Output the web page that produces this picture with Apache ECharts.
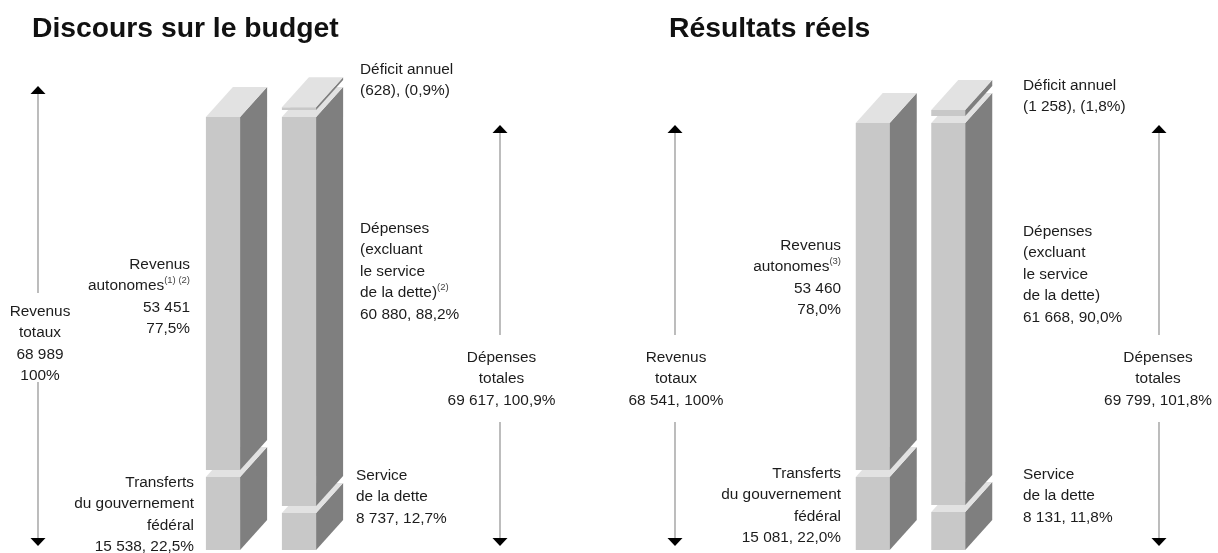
<!DOCTYPE html>
<html><head><meta charset="utf-8">
<style>html,body{margin:0;padding:0;background:#fff}#c{width:1218px;height:553px}</style>
<script src="https://cdn.jsdelivr.net/npm/echarts@6/dist/echarts.min.js"></script>
</head><body><div id="c"></div>
<script>
const titles = ['Discours sur le budget', 'Résultats réels'];
const columns = ['Revenus', 'Dépenses'];
const budgetRevenue = [15538, 53451];
const budgetExpense = [8737, 60880, 628];
const actualRevenue = [15081, 53460];
const actualExpense = [8131, 61668, 1258];

const FONT = '"Liberation Sans", Arial, sans-serif';
const DEPTH_X = 27, DEPTH_Y = 30, GAP = 7;
const FRONT = '#c8c8c8', SIDE = '#7f7f7f', TOP = '#e2e2e2';

// each row: start value, end value, column index, gap below, gap above
function rows(rev, exp) {
  return [
    [0, rev[0], 0, 0, 0],
    [rev[0], rev[0] + rev[1], 0, GAP, 0],
    [0, exp[0], 1, 0, 0],
    [exp[0], exp[0] + exp[1], 1, GAP, 0],
    [exp[0] + exp[1], exp[0] + exp[1] + exp[2], 1, GAP, GAP]
  ];
}
function renderBox(params, api) {
  const col = api.value(2);
  const a = api.coord([col, api.value(0)]);
  const b = api.coord([col, api.value(1)]);
  const w = api.size([1, 0])[0] * 0.45;
  const x0 = a[0] - w / 2, x1 = a[0] + w / 2;
  const yb = a[1] - api.value(3);
  const yt = b[1] - api.value(4);
  const poly = (pts, fill) => ({ type: 'polygon', shape: { points: pts }, style: { fill } });
  return { type: 'group', children: [
    { type: 'rect', shape: { x: x0, y: yt, width: w, height: yb - yt }, style: { fill: FRONT } },
    poly([[x1, yt], [x1 + DEPTH_X, yt - DEPTH_Y], [x1 + DEPTH_X, yb - DEPTH_Y], [x1, yb]], SIDE),
    poly([[x0, yt], [x1, yt], [x1 + DEPTH_X, yt - DEPTH_Y], [x0 + DEPTH_X, yt - DEPTH_Y]], TOP)
  ]};
}
function yAxis(gridIndex, breaks) {
  return { type: 'value', gridIndex, min: 0, max: 72000, show: false, breaks,
    breakArea: { show: false }, splitLine: { show: false } };
}
function xAxis(gridIndex) {
  return { type: 'category', gridIndex, data: columns, show: false };
}
const txt = (x, y, lines, align) => ({
  type: 'text', x, y, silent: true,
  style: { text: lines.join('\n'), font: '15.4px ' + FONT, fill: '#1c1c1c', align: align || 'left',
    verticalAlign: 'top', lineHeight: 21.4,
    rich: { s: { fontSize: 9.5, verticalAlign: 'top', padding: [0, 0, 7, 0], fontFamily: FONT, fill: '#444', lineHeight: 21.4 } } }
});
const arrow = (x, y1, y2, y3, y4) => [
  { type: 'line', shape: { x1: x, y1: y1, x2: x, y2: y2 }, style: { stroke: '#999', lineWidth: 1.3 } },
  { type: 'line', shape: { x1: x, y1: y3, x2: x, y2: y4 }, style: { stroke: '#999', lineWidth: 1.3 } },
  { type: 'polygon', shape: { points: [[x, y1 - 8], [x + 7.5, y1], [x - 7.5, y1]] }, style: { fill: '#000' } },
  { type: 'polygon', shape: { points: [[x, y4 + 8], [x + 7.5, y4], [x - 7.5, y4]] }, style: { fill: '#000' } }
];
const option = {
  animation: false,
  backgroundColor: '#fff',
  title: [
    { text: titles[0], left: 27, top: 10, textStyle: { fontFamily: FONT, fontSize: 28.3, fontWeight: 'bold', color: '#111' } },
    { text: titles[1], left: 664, top: 10, textStyle: { fontFamily: FONT, fontSize: 28.3, fontWeight: 'bold', color: '#111' } }
  ],
  grid: [
    { left: 185, width: 152, top: 102.5, height: 447.5 },
    { left: 835, width: 151, top: 110.8, height: 439.2 }
  ],
  xAxis: [xAxis(0), xAxis(1)],
  yAxis: [
    yAxis(0, [{ start: 2000, end: 5250, gap: 0 }, { start: 10000, end: 11450, gap: 0 },
              { start: 68989, end: 69617, gap: 0 }, { start: 69700, end: 69930, gap: 0 }]),
    yAxis(1, [{ start: 2000, end: 4400, gap: 0 }, { start: 10000, end: 11671, gap: 0 },
              { start: 68541, end: 69799, gap: 0 }, { start: 69900, end: 70252, gap: 0 }])
  ],
  series: [
    { type: 'custom', xAxisIndex: 0, yAxisIndex: 0, data: rows(budgetRevenue, budgetExpense), renderItem: renderBox, silent: true },
    { type: 'custom', xAxisIndex: 1, yAxisIndex: 1, data: rows(actualRevenue, actualExpense), renderItem: renderBox, silent: true }
  ],
  graphic: [
    ...arrow(38, 94, 293, 382, 538),
    ...arrow(500, 133, 335, 422, 538),
    ...arrow(675, 133, 335, 422, 538),
    ...arrow(1159, 133, 335, 422, 538),
    txt(360, 59, ['Déficit annuel', '(628), (0,9%)']),
    txt(360, 218, ['Dépenses', '(excluant', 'le service', 'de la dette){s|(2)}', '60 880, 88,2%']),
    txt(356, 465, ['Service', 'de la dette', '8 737, 12,7%']),
    txt(40, 301, ['Revenus', 'totaux', '68 989', '100%'], 'center'),
    txt(190, 254, ['Revenus', 'autonomes{s|(1) (2)}', '53 451', '77,5%'], 'right'),
    txt(194, 472, ['Transferts', 'du gouvernement', 'fédéral', '15 538, 22,5%'], 'right'),
    txt(501.5, 347, ['Dépenses', 'totales', '69 617, 100,9%'], 'center'),
    txt(676, 347, ['Revenus', 'totaux', '68 541, 100%'], 'center'),
    txt(841, 235, ['Revenus', 'autonomes{s|(3)}', '53 460', '78,0%'], 'right'),
    txt(841, 463, ['Transferts', 'du gouvernement', 'fédéral', '15 081, 22,0%'], 'right'),
    txt(1023, 75, ['Déficit annuel', '(1 258), (1,8%)']),
    txt(1023, 221, ['Dépenses', '(excluant', 'le service', 'de la dette)', '61 668, 90,0%']),
    txt(1023, 464, ['Service', 'de la dette', '8 131, 11,8%']),
    txt(1158, 347, ['Dépenses', 'totales', '69 799, 101,8%'], 'center')
  ]
};
echarts.init(document.getElementById('c')).setOption(option);
</script></body></html>
